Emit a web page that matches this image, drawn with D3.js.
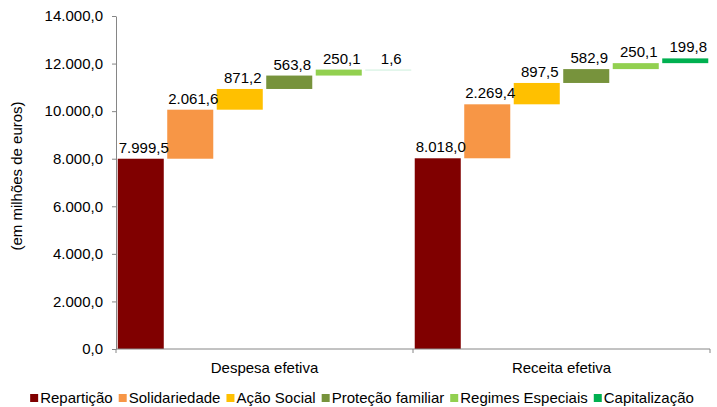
<!DOCTYPE html>
<meta charset="utf-8">
<head>
    <script src="https://d3js.org/d3.v7.min.js"></script>
    <style>
    body {
        margin: 0;
        font: 15px "Liberation Sans", Arial, sans-serif;
    }
    .axis text {
        font: 15px "Liberation Sans", Arial, sans-serif;
        fill: #000;
    }
    .axis path, .axis line {
        stroke: #868686;
    }
    .label {
        font: 15px "Liberation Sans", Arial, sans-serif;
        fill: #000;
    }
    </style>
</head>

<body>
<script>

// data (em milhões de euros)
var categories = ["Despesa efetiva", "Receita efetiva"];
var series = ["Repartição", "Solidariedade", "Ação Social", "Proteção familiar", "Regimes Especiais", "Capitalização"];
var colors = ["#800000", "#F79646", "#FFC000", "#77933C", "#92D050", "#00B050"];
var despesa = [7999.5, 2061.6, 871.2, 563.8, 250.1, 1.6];
var receita = [8018.0, 2269.4, 897.5, 582.9, 250.1, 199.8];
var yTicks = [0, 2000, 4000, 6000, 8000, 10000, 12000, 14000];

var values = [despesa, receita];

// pt-PT number format: 12.000,0
var fmt = d3.formatLocale({decimal: ",", thousands: ".", grouping: [3], currency: ["", " €"]}).format(",.1f");

var margin = {top: 16, right: 7, bottom: 58, left: 116},
    width = 717 - margin.left - margin.right,
    height = 407 - margin.top - margin.bottom;

var svg = d3.select("body").append("svg")
    .attr("width", 717)
    .attr("height", 407)
  .append("g")
    .attr("transform", "translate(" + margin.left + "," + margin.top + ")");

var x = d3.scaleBand().domain(categories).range([0, width]);
var xs = d3.scaleBand().domain(series).range([0, x.bandwidth()])
    .paddingInner(0.07).paddingOuter(0.035);
var y = d3.scaleLinear().domain([0, 14000]).range([height, 0]);

// build floating (waterfall) segments
var bars = [];
categories.forEach(function(c, ci) {
    var base = 0;
    series.forEach(function(s, si) {
        var v = values[ci][si];
        bars.push({cat: c, series: s, color: colors[si], v: v, y0: base, y1: base + v});
        base += v;
    });
});

svg.selectAll(".bar")
    .data(bars)
  .enter().append("rect")
    .attr("class", "bar")
    .attr("x", function(d) { return x(d.cat) + xs(d.series); })
    .attr("width", xs.bandwidth())
    .attr("y", function(d) { return y(d.y1); })
    .attr("height", function(d) { return Math.max(1, y(d.y0) - y(d.y1)); })
    .attr("fill", function(d) { return d.color; })
    .attr("fill-opacity", function(d) { return d.v < 20 ? 0.2 : 1; });

// value labels
svg.selectAll(".label")
    .data(bars)
  .enter().append("text")
    .attr("class", "label")
    .attr("x", function(d) { return x(d.cat) + xs(d.series) + xs.bandwidth() / 2 + 3; })
    .attr("y", function(d) { return y(d.y1) - 6; })
    .attr("text-anchor", "middle")
    .text(function(d) { return fmt(d.v); });

// y axis
svg.append("g")
    .attr("class", "axis")
    .call(d3.axisLeft(y).tickValues(yTicks).tickFormat(fmt).tickSize(4).tickSizeOuter(0).tickPadding(9));

// x axis with tick marks on category boundaries
var xAxis = svg.append("g")
    .attr("class", "axis")
    .attr("transform", "translate(0," + height + ")");
xAxis.append("line")
    .attr("x1", 0).attr("x2", width)
    .attr("stroke", "#868686");
xAxis.selectAll(".bound")
    .data(categories.concat(["end"]))
  .enter().append("line")
    .attr("x1", function(d, i) { return i < categories.length ? x(d) : width; })
    .attr("x2", function(d, i) { return i < categories.length ? x(d) : width; })
    .attr("y1", 0).attr("y2", 4)
    .attr("stroke", "#868686");
xAxis.selectAll(".cat")
    .data(categories)
  .enter().append("text")
    .attr("x", function(d) { return x(d) + x.bandwidth() / 2; })
    .attr("y", 24)
    .attr("text-anchor", "middle")
    .text(function(d) { return d; });

// y axis title
svg.append("text")
    .attr("class", "label")
    .attr("transform", "rotate(-90)")
    .attr("x", -160)
    .attr("y", -94)
    .attr("text-anchor", "middle")
    .text("(em milhões de euros)");

// legend
var legend = d3.select("svg").append("g")
    .attr("transform", "translate(0,398)");
var lx = 0;
series.forEach(function(s, i) {
    var item = legend.append("g").attr("transform", "translate(" + lx + ",0)");
    item.append("rect")
        .attr("x", 0).attr("y", -4)
        .attr("width", 8).attr("height", 8)
        .attr("fill", colors[i]);
    var t = item.append("text")
        .attr("class", "label")
        .attr("x", 10)
        .attr("dy", "0.35em")
        .text(s);
    lx += 10 + t.node().getComputedTextLength() + 6;
});
legend.attr("transform", "translate(" + (362 - (lx - 6) / 2) + ",398)");

</script>
</body>
